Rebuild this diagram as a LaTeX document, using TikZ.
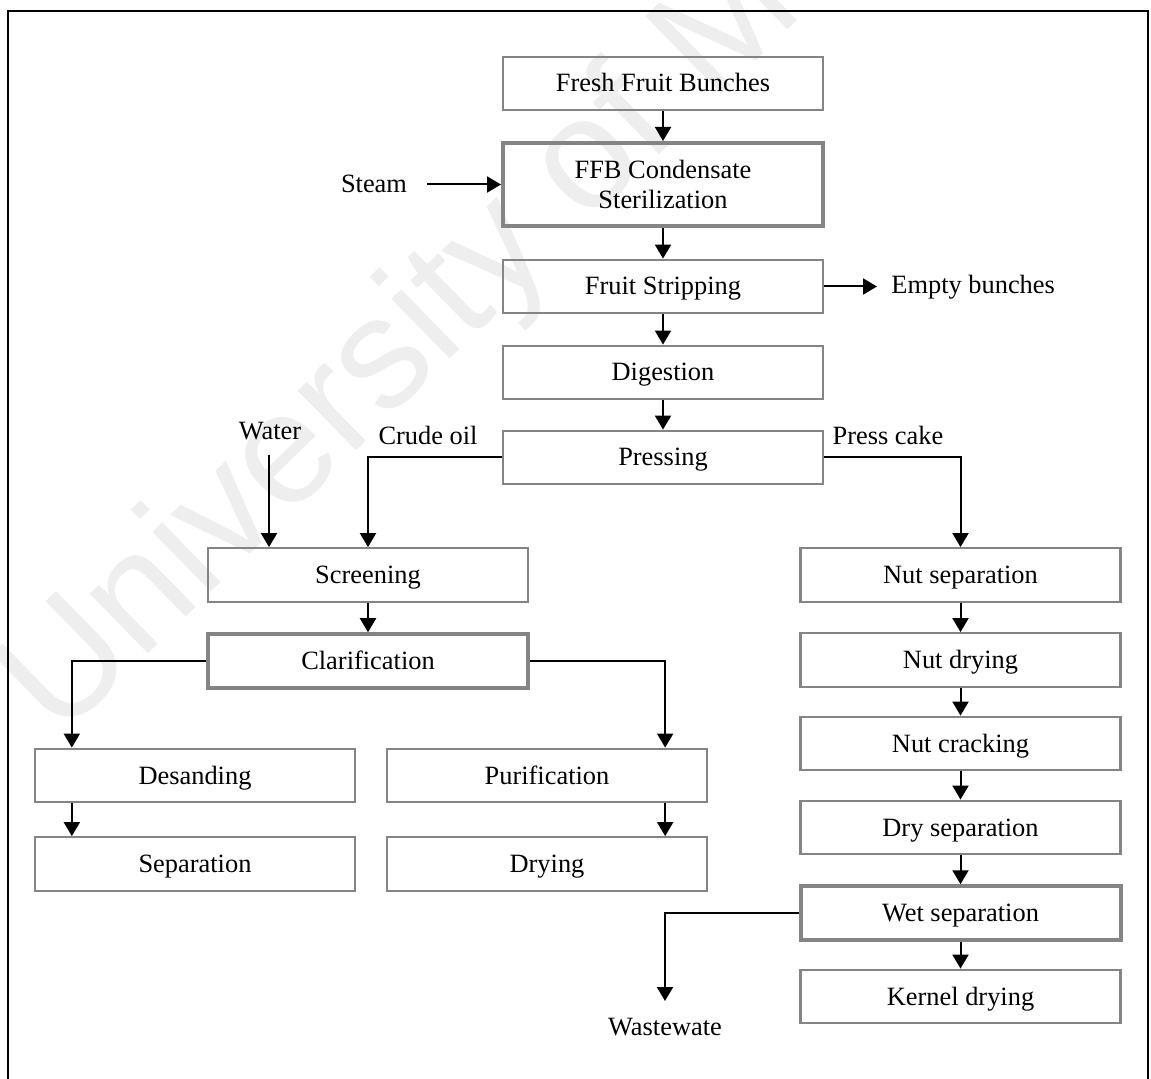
\documentclass[tikz,border=0pt]{standalone}
\usepackage{fontspec}
\setmainfont{Liberation Serif}
\newfontfamily\wmfont{Liberation Sans}
\usetikzlibrary{arrows.meta}
\definecolor{boxgray}{HTML}{848484}
\definecolor{wmgray}{HTML}{EEEEEE}

\begin{document}
\begin{tikzpicture}[x=0.5pt,y=-0.5pt,
  stage/.style={draw=boxgray, line width=1.15pt, minimum width=160pt, minimum height=26.75pt,
    inner sep=0pt, text height=8.5pt, text depth=0pt, font=\fontsize{13.2}{15}\selectfont},
  keystage/.style={stage, line width=2pt},
  lbl/.style={inner sep=0pt, text height=8.5pt, text depth=0pt, font=\fontsize{13.2}{15}\selectfont},
  flow/.style={line width=1pt, -{Triangle[length=7pt,width=8pt]}}]

\useasboundingbox (0,0) rectangle (1151,1079);

% faint background mark
\node[rotate=44.3, anchor=base west, inner sep=0pt, text=wmgray,
      font=\wmfont\fontsize{79}{79}\selectfont] (mark) at (59,741) {University of Malaya};

% outer frame (open at the bottom)
\draw[line width=1.3pt] (8,1079) -- (8,11) -- (1148,11) -- (1148,1079);

% main line
\node[stage] (ffb)   at (663,83.5)  {Fresh Fruit Bunches};
\node[keystage, minimum height=41.5pt, text height={}, text depth={}, align=center]
                (ster)  at (663,184.5) {FFB Condensate\\Sterilization};
\node[stage] (strip) at (663,286.5) {Fruit Stripping};
\node[stage] (dig)   at (663,372.5) {Digestion};
\node[stage] (press) at (663,457.5) {Pressing};

% oil branch
\node[stage]    (screen) at (368,575)   {Screening};
\node[keystage] (clar)   at (368,661)   {Clarification};
\node[stage]    (desand) at (195,775.5) {Desanding};
\node[stage]    (sep)    at (195,864)   {Separation};
\node[stage]    (purif)  at (547,775.5) {Purification};
\node[stage]    (drying) at (547,864)   {Drying};

% nut branch
\node[stage]    (nutsep)   at (960.5,575)   {Nut separation};
\node[stage]    (nutdry)   at (960.5,660)   {Nut drying};
\node[stage]    (nutcrack) at (960.5,743.5) {Nut cracking};
\node[stage]    (drysep)   at (960.5,827.5) {Dry separation};
\node[keystage] (wetsep)   at (960.5,913)   {Wet separation};
\node[stage]    (kernel)   at (960.5,996.5) {Kernel drying};

% side labels
\node[lbl] (steam) at (374,184)     {Steam};
\node[lbl, anchor=west] (empty) at (891,285.5) {Empty bunches};
\node[lbl] (water) at (270,431)     {Water};
\node[lbl] (crude) at (428,436.5)   {Crude oil};
\node[lbl] (cake)  at (888,436.5)   {Press cake};
\node[lbl] (waste) at (665,1027)    {Wastewate};

% free connector ends
\coordinate (steamtail) at (427,184.5);
\coordinate (emptytip)  at (877,286.5);
\coordinate (watertail) at (269,455);
\coordinate (wastetip)  at (665,1001);

% connectors along the main line
\draw[flow] (ffb) -- (ster);
\draw[flow] (ster) -- (strip);
\draw[flow] (strip) -- (dig);
\draw[flow] (dig) -- (press);
\draw[flow] (steamtail) -- (ster.west);
\draw[flow] (strip.east) -- (emptytip);

% split after pressing
\draw[flow] (press.west) -| (screen.north);
\draw[flow] (press.east) -| (nutsep.north);
\draw[flow] (watertail) -- (watertail |- screen.north);

% oil branch connectors
\draw[flow] (screen) -- (clar);
\draw[flow] (clar.west) -| ([xshift=19pt]desand.north west);
\draw[flow] (clar.east) -| ([xshift=-21.5pt]purif.north east);
\draw[flow] ([xshift=19pt]desand.south west) -- ([xshift=19pt]sep.north west);
\draw[flow] ([xshift=-21.5pt]purif.south east) -- ([xshift=-21.5pt]drying.north east);

% nut branch connectors
\draw[flow] (nutsep) -- (nutdry);
\draw[flow] (nutdry) -- (nutcrack);
\draw[flow] (nutcrack) -- (drysep);
\draw[flow] (drysep) -- (wetsep);
\draw[flow] (wetsep) -- (kernel);
\draw[flow] (wetsep.west) -| (wastetip);

\end{tikzpicture}
\end{document}
